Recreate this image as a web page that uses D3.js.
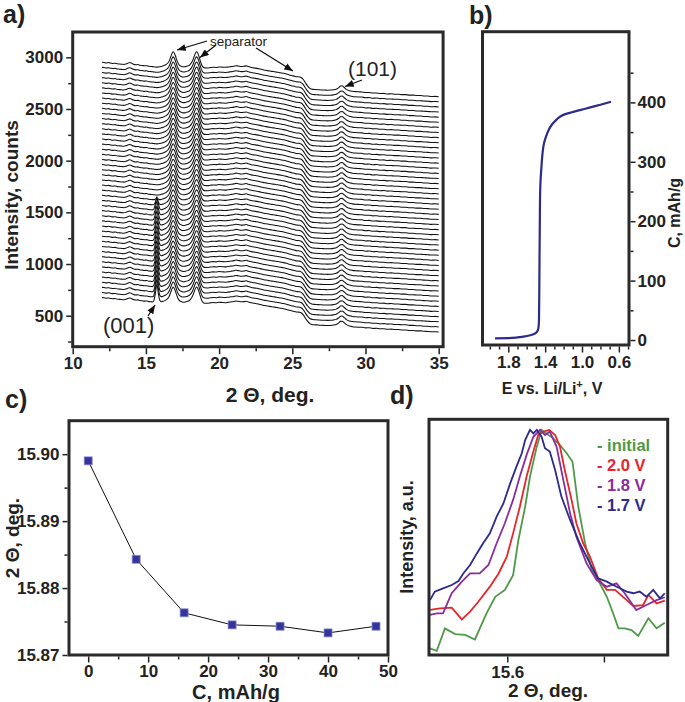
<!DOCTYPE html>
<html><head><meta charset="utf-8">
<script src="https://cdn.jsdelivr.net/npm/d3@7"></script>
<style>
body{margin:0;background:#fff}
svg{display:block}
text{font-family:"Liberation Sans",Arial,sans-serif}
</style>
</head><body>
<svg id="fig" width="685" height="702"></svg>
<script>
// ---------------- DATA ----------------
// (a) top XRD trace profile [2theta, counts]
const profileTop = [[12.00,2952],[12.15,2950],[12.30,2946],[12.45,2949],[12.60,2944],[12.75,2941],[12.90,2943],[13.05,2937],[13.20,2935],[13.35,2933],[13.50,2931],[13.65,2936],[13.80,2945],[13.90,2949],[14.00,2944],[14.15,2933],[14.30,2928],[14.45,2930],[14.60,2923],[14.75,2921],[14.90,2918],[15.05,2919],[15.20,2913],[15.35,2911],[15.45,2910],[15.55,2908],[15.65,2906],[15.75,2905],[15.85,2906],[15.95,2908],[16.05,2912],[16.20,2918],[16.35,2928],[16.50,2945],[16.60,2968],[16.70,3005],[16.80,3042],[16.87,3054],[16.95,3038],[17.05,3000],[17.15,2958],[17.25,2930],[17.40,2914],[17.55,2908],[17.70,2910],[17.85,2916],[18.00,2928],[18.10,2945],[18.20,2972],[18.30,3010],[18.40,3045],[18.47,3054],[18.55,3038],[18.65,2998],[18.75,2950],[18.85,2915],[19.00,2898],[19.20,2897],[19.40,2901],[19.60,2904],[19.80,2902],[20.00,2907],[20.20,2905],[20.40,2903],[20.60,2906],[20.80,2910],[21.00,2914],[21.15,2919],[21.30,2916],[21.50,2911],[21.70,2913],[21.85,2917],[22.00,2910],[22.20,2902],[22.40,2897],[22.60,2893],[22.80,2886],[23.00,2879],[23.20,2874],[23.40,2869],[23.60,2864],[23.80,2860],[24.00,2855],[24.20,2850],[24.40,2845],[24.60,2838],[24.80,2830],[25.00,2822],[25.20,2815],[25.35,2812],[25.50,2810],[25.60,2805],[25.75,2785],[25.90,2752],[26.05,2722],[26.20,2700],[26.40,2690],[26.60,2688],[26.80,2686],[27.00,2684],[27.20,2683],[27.40,2682],[27.60,2683],[27.80,2686],[28.00,2692],[28.15,2705],[28.30,2722],[28.40,2724],[28.55,2708],[28.70,2690],[28.90,2677],[29.10,2671],[29.30,2668],[29.50,2666],[29.75,2665],[30.00,2659],[30.25,2660],[30.50,2654],[30.75,2655],[31.00,2650],[31.25,2651],[31.50,2646],[31.75,2647],[32.00,2643],[32.25,2643],[32.50,2639],[32.75,2639],[33.00,2634],[33.25,2634],[33.50,2630],[33.75,2630],[34.00,2626],[34.25,2625],[34.50,2621],[34.75,2622],[35.00,2619]];
// (001) peak shape (relative) at the profile's 2theta points
const shape001 = [[15.45,0],[15.55,0.1],[15.65,0.5],[15.75,1],[15.85,0.5],[15.95,0.1],[16.05,0]];
// (001) peak height per trace, bottom trace first (counts)
const amp001 = [175,172,170,168,165,162,160,158,155,152,150,148,146,144,142,140,138,136,132,60,20,0,0,0,0,0,0,0,0,0,0,0,0,0,0,0,0,0,0,0,0,0,0,0,0,0,0];
const traceStep = 49.5; // counts offset between stacked traces
const ticksAx = [10,15,20,25,30,35];
const ticksAy = [500,1000,1500,2000,2500,3000];

// (b) discharge curve
const bE = [1.944,1.80,1.70,1.637,1.56,1.51,1.485,1.474,1.470,1.467,1.462,1.456,1.450,1.440,1.428,1.413,1.39,1.36,1.32,1.27,1.203,1.12,1.022,0.90,0.80,0.685];
const bC = [2.9,3.3,4.3,5.6,8.0,11,15,19.7,25,34,120,236,268,292,315,331,343,354,364,372,379,383,387,392,396,401];
const ticksBx = [1.8,1.4,1.0,0.6];
const ticksBy = [0,100,200,300,400];

// (c) (001) position vs capacity
const cC = [0,8,16,24,32,40,48];
const cTheta = [15.899,15.8843,15.8763,15.8745,15.8743,15.8733,15.8743];
const ticksCx = [0,10,20,30,40,50];
const ticksCy = [15.87,15.88,15.89,15.90];

// (d) normalised (001) peak profiles
const dSeries = ["- initial","- 2.0 V","- 1.8 V","- 1.7 V"];
const dColors = ["#4e9a48","#e5262b","#8a2d9c","#2d2a8e"];
const dInitial = [[15.440,0.028],[15.454,0.018],[15.471,0.113],[15.492,0.089],[15.513,0.085],[15.533,0.066],[15.557,0.177],[15.575,0.247],[15.595,0.276],[15.612,0.339],[15.623,0.488],[15.637,0.629],[15.647,0.757],[15.661,0.884],[15.671,0.955],[15.681,0.940],[15.695,0.919],[15.709,0.891],[15.723,0.856],[15.735,0.820],[15.747,0.629],[15.761,0.474],[15.775,0.361],[15.788,0.318],[15.806,0.247],[15.819,0.177],[15.830,0.113],[15.843,0.113],[15.857,0.106],[15.871,0.081],[15.892,0.156],[15.909,0.113],[15.926,0.137]];
const d20 = [[15.440,0.191],[15.461,0.198],[15.485,0.201],[15.506,0.151],[15.523,0.184],[15.540,0.226],[15.564,0.290],[15.582,0.346],[15.599,0.417],[15.612,0.516],[15.626,0.629],[15.640,0.757],[15.654,0.863],[15.664,0.933],[15.675,0.948],[15.687,0.955],[15.699,0.933],[15.709,0.884],[15.719,0.785],[15.733,0.658],[15.743,0.559],[15.757,0.474],[15.771,0.417],[15.788,0.325],[15.806,0.276],[15.823,0.276],[15.843,0.240],[15.861,0.208],[15.881,0.212],[15.892,0.255],[15.909,0.219],[15.926,0.231]];
const d18 = [[15.440,0.170],[15.454,0.177],[15.467,0.177],[15.485,0.262],[15.506,0.311],[15.523,0.346],[15.543,0.346],[15.561,0.382],[15.578,0.474],[15.595,0.559],[15.612,0.658],[15.626,0.757],[15.640,0.849],[15.654,0.926],[15.668,0.955],[15.678,0.933],[15.688,0.948],[15.702,0.884],[15.716,0.742],[15.730,0.601],[15.743,0.502],[15.764,0.389],[15.785,0.318],[15.806,0.290],[15.826,0.304],[15.843,0.262],[15.867,0.191],[15.888,0.212],[15.909,0.233],[15.926,0.245]];
const d17 = [[15.440,0.233],[15.450,0.269],[15.467,0.283],[15.485,0.297],[15.499,0.314],[15.509,0.346],[15.523,0.382],[15.537,0.431],[15.550,0.474],[15.564,0.516],[15.578,0.587],[15.592,0.643],[15.606,0.728],[15.619,0.799],[15.630,0.856],[15.637,0.912],[15.647,0.955],[15.654,0.940],[15.661,0.955],[15.671,0.926],[15.678,0.877],[15.688,0.863],[15.699,0.785],[15.712,0.672],[15.730,0.573],[15.750,0.474],[15.771,0.389],[15.788,0.325],[15.806,0.311],[15.819,0.297],[15.833,0.283],[15.847,0.269],[15.861,0.262],[15.874,0.269],[15.888,0.247],[15.902,0.276],[15.916,0.240],[15.926,0.262]];
const dData = [dInitial,d20,d18,d17];
const ticksDx = [15.6,15.8];

// ---------------- DRAWING ----------------
const svg = d3.select("#fig");
const ink = "#222";
const defs = svg.append("defs");
defs.append("marker").attr("id","arr").attr("viewBox","0 0 10 8").attr("refX",10).attr("refY",4)
  .attr("markerWidth",9).attr("markerHeight",7).attr("markerUnits","userSpaceOnUse").attr("orient","auto")
  .append("path").attr("d","M0,0L10,4L0,8z").attr("fill","#111");

function frame(x0,x1,y0,y1){
  svg.append("rect").attr("x",x0).attr("y",y0).attr("width",x1-x0).attr("height",y1-y0)
    .attr("fill","none").attr("stroke","#2a2a2a").attr("stroke-width",3);
}
function styleAxis(g, fs){
  g.select(".domain").remove();
  g.selectAll("line").attr("stroke",ink).attr("stroke-width",1.5);
  g.selectAll("text").attr("font-size",fs).attr("font-weight","bold").style("fill",ink)
    .attr("font-family","'Liberation Sans',Arial,sans-serif");
}
function label(x,y,txt,fs,opts={}){
  const t = svg.append("text").attr("x",x).attr("y",y).text(txt).attr("font-size",fs)
    .attr("font-weight",opts.weight||"bold").attr("text-anchor",opts.anchor||"start")
    .style("fill",opts.fill||ink);
  if(opts.rot) t.attr("transform",`rotate(${opts.rot},${x},${y})`);
  return t;
}

// ---- Panel a ----
const xA = d3.scaleLinear([10,35.3],[72.7,443.1]);
const yA = d3.scaleLinear([200,3245],[346.7,32]);
const nTr = amp001.length;
const shapeMap = new Map(shape001.map(d=>[d[0],d[1]]));
const lineA = d3.line().x(d=>xA(d[0])).y(d=>yA(d[1])).curve(d3.curveMonotoneX);
const gTr = svg.append("g");
for(let i=0;i<nTr;i++){
  const pts = profileTop.map(([x,y])=>[x, y-(nTr-1-i)*traceStep + amp001[i]*(shapeMap.get(x)||0)]);
  gTr.append("path").attr("d",lineA(pts)).attr("fill","none").attr("stroke","#111").attr("stroke-width",1.05);
}
frame(72.7,443.1,32,346.7);
let g = svg.append("g").attr("transform","translate(0,348.2)")
  .call(d3.axisBottom(xA).tickValues(ticksAx).tickSize(6).tickPadding(3).tickFormat(d3.format("d")));
styleAxis(g,17);
g = svg.append("g").attr("transform","translate(0,348.2)")
  .call(d3.axisBottom(xA).tickValues([12.5,17.5,22.5,27.5,32.5]).tickSize(3).tickFormat(""));
styleAxis(g,17);
g = svg.append("g").attr("transform","translate(71.2,0)")
  .call(d3.axisLeft(yA).tickValues(ticksAy).tickSize(5).tickPadding(3).tickFormat(d3.format("d")));
styleAxis(g,17);
g = svg.append("g").attr("transform","translate(71.2,0)")
  .call(d3.axisLeft(yA).tickValues([250,750,1250,1750,2250,2750]).tickSize(3).tickFormat(""));
styleAxis(g,17);
label(3,23,"a)",25);
label(270,402,"2 Θ, deg.",21,{anchor:"middle"});
label(18,195,"Intensity, counts",19,{anchor:"middle",rot:-90});
label(210,46,"separator",13.5,{weight:"normal"});
label(348,76,"(101)",21,{weight:"normal"});
label(103,333,"(001)",22,{weight:"normal"});
const arrows = [[[207,41],[177,50]],[[216,45],[200,57.5]],[[256,48],[293,71]],[[362,80],[345,86.5]],[[148,316],[155,305]]];
arrows.forEach(([a,b])=>svg.append("line").attr("x1",a[0]).attr("y1",a[1]).attr("x2",b[0]).attr("y2",b[1])
  .attr("stroke","#111").attr("stroke-width",1.3).attr("marker-end","url(#arr)"));

// ---- Panel b ----
const xB = d3.scaleLinear([2.08,0.49],[482.5,629]);
const yB = d3.scaleLinear([-8.4,519],[345,31.7]);
svg.append("path").attr("d",d3.line().x((d,i)=>xB(bE[i])).y((d,i)=>yB(bC[i])).curve(d3.curveMonotoneY)(bE))
  .attr("fill","none").attr("stroke","#2d2a8e").attr("stroke-width",2.2);
frame(482.5,629,31.7,345);
g = svg.append("g").attr("transform","translate(0,346.5)")
  .call(d3.axisBottom(xB).tickValues(ticksBx).tickSize(6).tickPadding(3).tickFormat(d3.format(".1f")));
styleAxis(g,17);
g = svg.append("g").attr("transform","translate(0,346.5)")
  .call(d3.axisBottom(xB).tickValues([2.0,1.9,1.7,1.6,1.5,1.3,1.2,1.1,0.9,0.8,0.7,0.5]).tickSize(3).tickFormat(""));
styleAxis(g,17);
g = svg.append("g").attr("transform","translate(630.5,0)")
  .call(d3.axisRight(yB).tickValues(ticksBy).tickSize(5).tickPadding(2).tickFormat(d3.format("d")));
styleAxis(g,17);
g = svg.append("g").attr("transform","translate(630.5,0)")
  .call(d3.axisRight(yB).tickValues([50,150,250,350,450]).tickSize(3).tickFormat(""));
styleAxis(g,17);
label(469,24,"b)",25);
const tb = label(552,394,"E vs. Li/Li",16,{anchor:"middle"});
tb.append("tspan").attr("dy",-6).attr("font-size",11).text("+");
tb.append("tspan").attr("dy",6).text(", V");
label(680,213,"C, mAh/g",16,{anchor:"middle",rot:-90});

// ---- Panel c ----
const xC = d3.scaleLinear([-3.2,50],[69,388]);
const yC = d3.scaleLinear([15.87,15.905],[655,420.7]);
svg.append("path").attr("d",d3.line().x((d,i)=>xC(cC[i])).y((d,i)=>yC(cTheta[i]))(cC))
  .attr("fill","none").attr("stroke","#111").attr("stroke-width",1);
svg.append("g").selectAll("rect").data(cC).join("rect")
  .attr("x",(d)=>xC(d)-4).attr("y",(d,i)=>yC(cTheta[i])-4).attr("width",8).attr("height",8)
  .attr("fill","#34349a").attr("stroke","#8c8cd0").attr("stroke-width",0.8);
frame(69,388,420.7,655);
g = svg.append("g").attr("transform","translate(0,656.5)")
  .call(d3.axisBottom(xC).tickValues(ticksCx).tickSize(6).tickPadding(2).tickFormat(d3.format("d")));
styleAxis(g,17);
g = svg.append("g").attr("transform","translate(0,656.5)")
  .call(d3.axisBottom(xC).tickValues([5,15,25,35,45]).tickSize(3).tickFormat(""));
styleAxis(g,17);
g = svg.append("g").attr("transform","translate(67.5,0)")
  .call(d3.axisLeft(yC).tickValues(ticksCy).tickSize(5).tickPadding(3).tickFormat(d3.format(".2f")));
styleAxis(g,17);
g = svg.append("g").attr("transform","translate(67.5,0)")
  .call(d3.axisLeft(yC).tickValues([15.875,15.885,15.895]).tickSize(3).tickFormat(""));
styleAxis(g,17);
label(5,408,"c)",25);
label(236,699,"C, mAh/g",20,{anchor:"middle"});
label(19,538,"2 Θ, deg.",19,{anchor:"middle",rot:-90});

// ---- Panel d ----
const xD = d3.scaleLinear([15.438,15.932],[429,667.7]);
const yD = d3.scaleLinear([0,1],[655,419.3]);
const lineD = d3.line().x(d=>xD(d[0])).y(d=>yD(d[1]));
const gD = svg.append("g");
[0,1,2,3].forEach(k=>gD.append("path").attr("d",lineD(dData[k])).attr("fill","none")
  .attr("stroke",dColors[k]).attr("stroke-width",1.8));
frame(429,667.7,419.3,655);
g = svg.append("g").attr("transform","translate(0,656.5)")
  .call(d3.axisBottom(xD).tickValues(ticksDx).tickSize(6).tickPadding(3).tickFormat(d=>d===15.6?"15.6":""));
styleAxis(g,17);
label(390,404,"d)",25);
label(548,697,"2 Θ, deg.",19,{anchor:"middle"});
label(413,537,"Intensity, a.u.",18,{anchor:"middle",rot:-90});
dSeries.forEach((s,k)=>label(597,451+k*20,s,16.5,{fill:dColors[k]}));
</script>
</body></html>
